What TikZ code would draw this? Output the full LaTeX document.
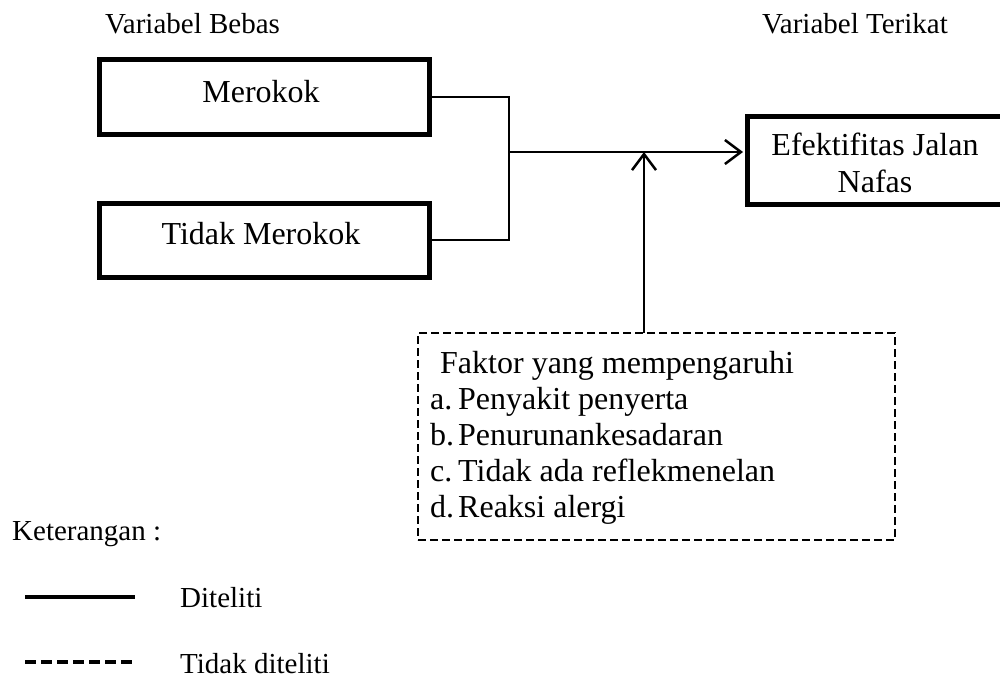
\documentclass[tikz,border=0pt]{standalone}
\usepackage{fontspec}
\setmainfont{Liberation Serif}
\usetikzlibrary{arrows.meta}
\begin{document}
\begin{tikzpicture}[x=1pt,y=-1pt,
  thickbox/.style={draw, line width=5pt, inner sep=0pt, outer sep=0pt},
  dashbox/.style={draw, line width=2.5pt, dash pattern=on 8pt off 4pt, inner sep=0pt, outer sep=0pt},
  bigtxt/.style={inner sep=0pt, anchor=base, font=\fontsize{32}{36}\selectfont},
  bigtxtw/.style={inner sep=0pt, anchor=base west, font=\fontsize{32}{36}\selectfont},
  smalltxt/.style={inner sep=0pt, anchor=base west, font=\fontsize{29}{33}\selectfont},
  link/.style={line width=2pt},
  arrowlink/.style={line width=2.5pt, -{Straight Barb[length=16pt,width=24pt]}}
]
\useasboundingbox (0,0) rectangle (1000,680);

% labels
\node[smalltxt] (lbebas) at (105,33) {Variabel Bebas};
\node[smalltxt] (lterikat) at (762,33) {Variabel Terikat};

% boxes
\node[thickbox, minimum width=330pt, minimum height=74.5pt] (m) at (264,96.75) {};
\node[thickbox, minimum width=330pt, minimum height=74pt] (t) at (264,240) {};
\node[thickbox, minimum width=258pt, minimum height=88pt] (e) at (876,160) {};
\node[dashbox, minimum width=477pt, minimum height=207pt] (f) at (656.5,436.5) {};

% box texts
\node[bigtxt] (mtxt) at (261,102) {Merokok};
\node[bigtxt] (ttxt) at (261,244) {Tidak Merokok};
\node[bigtxt] (etxt1) at (875,155) {Efektifitas Jalan};
\node[bigtxt] (etxt2) at (875,192) {Nafas};

\node[bigtxtw] (ftitle) at (440,373) {Faktor yang mempengaruhi};
\node[bigtxtw] (fa) at (430,409) {a.};
\node[bigtxtw] (fat) at (458,409) {Penyakit penyerta};
\node[bigtxtw] (fb) at (430,445) {b.};
\node[bigtxtw] (fbt) at (458,445) {Penurunankesadaran};
\node[bigtxtw] (fc) at (430,481) {c.};
\node[bigtxtw] (fct) at (458,481) {Tidak ada reflekmenelan};
\node[bigtxtw] (fd) at (430,517) {d.};
\node[bigtxtw] (fdt) at (458,517) {Reaksi alergi};

% connectors
\coordinate (j) at (509,152);
\coordinate (k) at (644,152);
\draw[link] (m.east) -| (j);
\draw[link] (t.east) -| (j);
\draw[arrowlink, shorten >=4pt] (j) -- (e.west |- j);
\draw[arrowlink] (k |- f.north) -- (k);

% legend
\node[smalltxt] (ket) at (12,540) {Keterangan :};
\coordinate (s1) at (25,597);
\coordinate (s2) at (135,597);
\draw[line width=4pt] (s1) -- (s2);
\node[smalltxt] (dit) at (180,607) {Diteliti};
\coordinate (d1) at (25,662);
\coordinate (d2) at (134,662);
\draw[line width=4pt, dash pattern=on 11pt off 5pt] (d1) -- (d2);
\node[smalltxt] (tdit) at (180,673) {Tidak diteliti};
\end{tikzpicture}
\end{document}
